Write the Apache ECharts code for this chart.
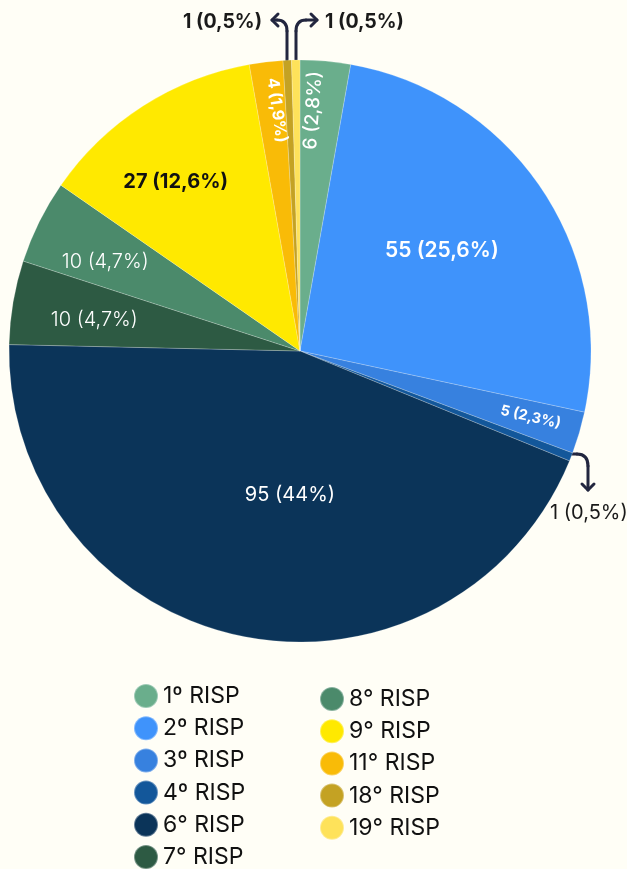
<!DOCTYPE html>
<html><head><meta charset="utf-8">
<script src="https://cdn.jsdelivr.net/npm/echarts@6/dist/echarts.min.js"></script>
<style>html,body{margin:0;padding:0;background:#FFFEF6}#c{width:627px;height:869px}</style>
</head><body><div id="c"></div>
<script>
const categories = ['1º RISP','2º RISP','3º RISP','4º RISP','6° RISP','7° RISP','8° RISP','9° RISP','11° RISP','18° RISP','19° RISP'];
const values = [6,55,5,1,95,10,10,27,4,1,1];
const percentLabels = ['2,8%','25,6%','2,3%','0,5%','44%','4,7%','4,7%','12,6%','1,9%','0,5%','0,5%'];
const colors = ['#6AAE8C','#3F93FB','#3781DF','#13579A','#0B3459','#2D5A43','#4B8A6B','#FFE900','#F9BB07','#C4A223','#FEE25A'];

const CX = 300, CY = 351, R = 291;
const FONT = 'Inter, "Noto Sans", sans-serif';
const labelPlace = [
  {r:241, a:3.1, rot:86, size:19, weight:500, color:'#fff'},
  {r:174, a:54.6, rot:0, size:21, weight:600, color:'#fff'},
  {r:240, a:106, rot:-13, size:14.5, weight:700, color:'#fff'},
  {x:550, y:513, align:'left', size:20, weight:400, color:'#1a1a1a'},
  {r:144, a:184, rot:0, size:20, weight:400, color:'#fff'},
  {r:208, a:278.6, rot:0, size:20, weight:300, color:'#fff'},
  {r:214, a:294.5, rot:0, size:20, weight:300, color:'#fff'},
  {r:210, a:323.7, rot:0, size:20, weight:700, color:'#111'},
  {r:242, a:354.5, rot:-82, size:16, weight:700, color:'#fff'},
  {x:262, y:22, align:'right', size:19.5, weight:700, color:'#1a1a1a'},
  {x:325, y:22, align:'left', size:19.5, weight:700, color:'#1a1a1a'}
];
labelPlace.forEach(p => {
  if (p.r != null) {
    const t = p.a * Math.PI / 180;
    p.x = CX + p.r * Math.sin(t);
    p.y = CY - p.r * Math.cos(t);
    p.align = 'center';
  }
});

const data = categories.map((c, i) => ({
  name: c,
  value: values[i],
  itemStyle: {color: colors[i]},
  label: {
    color: labelPlace[i].color,
    fontSize: labelPlace[i].size,
    fontWeight: labelPlace[i].weight,
    rotate: labelPlace[i].rot || 0
  }
}));

const legendStyle = {
  orient: 'vertical',
  icon: 'circle',
  itemWidth: 24,
  itemHeight: 24,
  itemGap: 8,
  padding: 0,
  height: 220,
  textStyle: {fontFamily: FONT, fontSize: 23, lineHeight: 24, color: '#111'},
  selectedMode: false
};

const arrowStyle = {fill: null, stroke: '#22263F', lineWidth: 3, lineCap: 'round', lineJoin: 'round'};
function seg(type, shape) { return {type: type, shape: shape, style: Object.assign({}, arrowStyle), silent: true}; }

const chart = echarts.init(document.getElementById('c'));
chart.setOption({
  backgroundColor: '#FFFEF6',
  animation: false,
  legend: [
    Object.assign({}, legendStyle, {left: 133, top: 683, itemGap: 6.2, data: categories.slice(0, 6)}),
    Object.assign({}, legendStyle, {left: 319, top: 686, itemGap: 6.2, data: categories.slice(6)})
  ],
  series: [{
    type: 'pie',
    center: [CX, CY],
    radius: [0, R],
    startAngle: 90,
    clockwise: true,
    avoidLabelOverlap: false,
    itemStyle: {borderColor: 'rgba(255,255,255,0.35)', borderWidth: 0.6},
    label: {
      show: true,
      position: 'inside',
      fontFamily: FONT,
      formatter: p => p.value + ' (' + percentLabels[p.dataIndex] + ')'
    },
    labelLine: {show: false},
    labelLayout: p => {
      const s = labelPlace[p.dataIndex];
      return {x: s.x, y: s.y, align: s.align, verticalAlign: 'middle', rotate: s.rot || 0};
    },
    emphasis: {disabled: true},
    data: data
  }],
  graphic: [
    seg('line', {x1:287, y1:62, x2:287, y2:31}),
    seg('bezierCurve', {x1:287, y1:31, cpx1:287, cpy1:20, x2:277, y2:20}),
    seg('polyline', {points:[[277,20],[272,20]]}),
    seg('polyline', {points:[[278,14],[272,20],[278,26]]}),
    seg('line', {x1:296, y1:62, x2:296, y2:31}),
    seg('bezierCurve', {x1:296, y1:31, cpx1:296, cpy1:20, x2:306, y2:20}),
    seg('polyline', {points:[[306,20],[317,20]]}),
    seg('polyline', {points:[[311,14],[317,20],[311,26]]}),
    seg('line', {x1:565, y1:454, x2:577, y2:454}),
    seg('bezierCurve', {x1:577, y1:454, cpx1:588, cpy1:454, x2:588, y2:466}),
    seg('line', {x1:588, y1:466, x2:588, y2:490}),
    seg('polyline', {points:[[582,484],[588,490],[594,484]]})
  ]
});
</script>
</body></html>
